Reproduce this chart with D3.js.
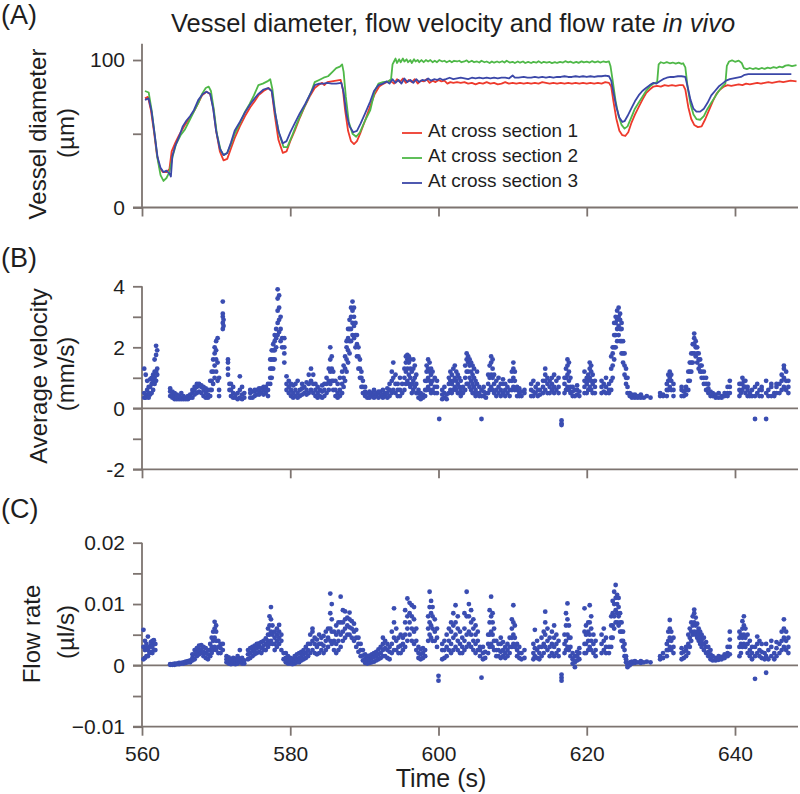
<!DOCTYPE html>
<html>
<head>
<meta charset="utf-8">
<script src="https://cdn.jsdelivr.net/npm/d3@7"></script>
<style>
  body { margin: 0; background: #fff; }
  svg { font-family: "Liberation Sans", Arial, sans-serif; }
  .tick text { fill: #1e1e1e; font-size: 21px; }
</style>
</head>
<body>
<div id="chart"></div>
<script>
// ---- data ----
var timeTicks = [560, 580, 600, 620, 640];
var diamTicks = [0, 50, 100];
var velTicks = [-2, -1, 0, 1, 2, 3, 4];
var flowTicks = [-0.01, -0.005, 0, 0.005, 0.01, 0.015, 0.02];

var legendLabels = ['At cross section 1', 'At cross section 2', 'At cross section 3'];

// vessel diameter (um) at cross section 1, [time s, diameter]
var diam1 = [[560.4,74],[560.8,75],[561.2,66],[561.6,52],[562.0,36],[562.4,27],[562.8,24],[563.3,24],[563.7,26],[564.0,38],[564.5,44],[565.0,49],[565.8,56],[566.6,62],[567.2,67],[567.6,71],[568.1,76],[568.7,78.5],[569.2,77],[569.6,68],[570.0,52],[570.5,38],[571.0,32],[571.5,33],[572.0,40],[572.5,47],[573.2,55],[573.9,62],[574.6,68],[575.2,72],[575.7,76],[576.4,79],[577.1,81],[577.5,79],[577.9,63],[578.4,46],[579.0,37],[579.5,38],[580.0,45],[580.6,52],[581.3,61],[582.0,69],[582.7,76],[583.3,81],[583.8,83],[584.3,84.5],[584.6,83],[585.0,85],[585.6,85.5],[586.2,86],[586.8,86.5],[587.1,80],[587.4,66],[587.8,52],[588.2,45],[588.6,43],[589.0,45],[589.5,51],[590.1,59],[590.8,69],[591.4,77],[592.0,82],[592.6,84],[593.0,85],[593.5,86],[594.0,84],[594.4,87],[594.8,85],[595.2,87.5],[595.6,84.5],[596.0,86.5],[596.4,85],[596.8,87],[597.2,84],[597.6,86],[598.0,85.5],[598.4,87],[598.8,84.5],[599.2,86],[599.6,85],[600.0,86.5],[600.4,85.5],[600.8,86],[601.2,84],[601.6,85],[602.0,84.5],[602.5,85],[603.0,84.5],[603.5,85],[604.0,84],[604.5,84.5],[605.0,83.5],[605.5,84.5],[606.0,84],[606.5,85],[607.0,84],[607.5,84.5],[608.0,83.5],[608.5,84],[609.0,85],[609.5,84],[610.0,84.5],[610.5,84],[611.0,84.5],[611.5,84],[612.0,84.5],[612.5,84],[613.0,84.5],[613.5,84],[614.0,85],[614.5,84.5],[615.0,84],[615.5,84.5],[616.0,84],[616.5,84.5],[617.0,84],[617.5,84.5],[618.0,84],[618.5,84.5],[619.0,84],[619.5,84.5],[620.0,84],[620.5,84.5],[621.0,84],[621.5,84.5],[622.0,84],[622.5,85],[623.0,84.5],[623.3,82],[623.6,72],[624.0,60],[624.4,52],[624.8,49],[625.2,48.5],[625.6,51],[626.0,57],[626.5,63],[627.0,68],[627.5,73],[628.0,77.5],[628.5,80],[629.0,82],[629.5,82.5],[630.0,82],[630.5,83],[631.0,82.5],[631.5,83],[632.0,82.5],[632.5,83],[633.0,83],[633.3,80],[633.7,68],[634.1,60],[634.5,56],[635.0,54.5],[635.5,55],[636.0,60],[636.5,66],[637.0,72],[637.5,77],[638.0,80],[638.5,82],[639.0,83],[639.5,82.5],[640.0,83],[640.5,83.5],[641.0,83],[641.5,84],[642.0,83.5],[642.5,84],[643.0,84.5],[643.5,84],[644.0,84.5],[644.5,85],[645.0,84.5],[645.5,85],[646.0,85.5],[646.5,85],[647.0,85.5],[647.5,86],[648.3,85.5]];

// cross section 2
var diam2 = [[560.4,79],[560.9,78],[561.3,66],[561.7,50],[562.1,33],[562.5,22],[562.9,18],[563.3,20],[563.7,24],[564.1,34],[564.6,43],[565.2,49],[565.8,53],[566.5,60],[567.1,66],[567.6,71],[568.1,77],[568.6,81],[569.0,82],[569.3,79],[569.7,66],[570.1,50],[570.6,39],[571.0,35.5],[571.5,37],[572.0,43],[572.5,50],[573.2,57],[573.9,65],[574.5,70],[575.1,76],[575.7,83],[576.3,84],[576.9,85.5],[577.3,87],[577.6,80],[578.0,63],[578.5,50],[579.1,41],[579.6,41],[580.2,48],[580.9,57],[581.6,65],[582.2,71.5],[582.8,78],[583.3,85],[583.9,86.5],[584.5,88],[585.1,89],[585.7,92],[586.2,94.5],[586.7,95.5],[587.0,97],[587.2,92],[587.5,75],[587.9,58],[588.4,50],[588.9,48],[589.4,51],[590.1,59],[590.8,66],[591.4,79],[591.9,84],[592.5,85],[593.2,85.5],[593.6,87],[593.8,97],[594.0,99],[594.2,101],[594.4,98],[594.7,100.5],[594.9,98.5],[595.2,101],[595.4,99],[595.7,100.5],[595.9,98.5],[596.2,100],[596.4,98],[596.7,100.5],[596.9,99],[597.2,100],[597.4,98.5],[597.7,100],[598.0,98.5],[598.3,100],[598.6,99],[598.9,100],[599.2,98.5],[599.5,99.5],[599.8,98.5],[600.1,100],[600.5,99],[600.8,99.5],[601.1,98.5],[601.5,99.5],[601.8,98.5],[602.1,99.5],[602.5,99],[602.8,99.5],[603.1,98.5],[603.5,99],[603.8,99.8],[604.1,98.5],[604.5,99.5],[604.8,98.5],[605.2,99],[605.5,98.3],[605.8,99.5],[606.2,98.5],[606.5,99],[606.9,98],[607.2,99],[607.5,98.2],[607.9,99],[608.2,98.3],[608.6,99.2],[608.9,98.3],[609.2,99.5],[609.6,98.3],[610.0,98.8],[610.3,98],[610.7,99],[611.0,98.2],[611.4,99],[611.7,98],[612.1,98.8],[612.5,98],[612.8,98.7],[613.2,98.2],[613.5,99.2],[613.9,98],[614.2,98.8],[614.6,98.2],[615.0,98.7],[615.3,97.9],[615.7,98.6],[616.0,98],[616.4,98.7],[616.8,98.3],[617.1,99.2],[617.5,98.4],[617.8,98.9],[618.2,98],[618.6,98.7],[618.9,98.1],[619.3,99.1],[619.6,98.4],[620.0,98.9],[620.4,98.3],[620.7,99.2],[621.1,98.4],[621.5,99.1],[621.8,98.3],[622.2,99],[622.6,98.5],[623.0,99],[623.2,96],[623.5,86],[623.9,72],[624.3,62],[624.7,56],[625.1,53.5],[625.5,55],[626.0,61],[626.5,67],[627.0,71],[627.5,75],[628.0,79],[628.5,82],[629.0,84],[629.5,85],[629.7,97],[630.0,98.5],[630.4,97.8],[630.8,98.6],[631.2,97.8],[631.6,98.3],[632.0,97.5],[632.4,98.2],[632.8,97.4],[633.0,97.8],[633.3,95],[633.6,82],[634.0,70],[634.4,63],[634.8,60],[635.3,59.5],[635.8,62],[636.3,67],[636.8,71],[637.3,75],[637.8,79],[638.3,82],[638.7,84],[638.9,96],[639.2,99],[639.6,99.8],[640.0,98.8],[640.5,99.6],[640.9,98],[641.2,94.5],[641.6,93.8],[642.0,94.6],[642.4,93.9],[642.8,94.5],[643.2,93.8],[643.6,94.6],[644.0,94],[644.4,94.8],[644.8,94.4],[645.2,95.2],[645.6,94.6],[646.0,95.5],[646.4,95],[646.8,96.2],[647.2,96.6],[647.7,95.9],[648.3,96.5]];

// cross section 3
var diam3 = [[560.4,73],[560.9,74],[561.3,65],[561.7,50],[562.1,34],[562.5,27],[562.9,24],[563.3,25],[563.7,23],[563.9,21],[564.1,35],[564.5,42],[565.0,48],[565.5,55],[566.0,59],[566.5,62],[567.0,66],[567.6,73],[568.2,77],[568.7,78.5],[569.2,77],[569.6,67],[570.0,52],[570.5,40],[571.0,35.5],[571.5,37],[572.0,44],[572.5,52],[573.2,58],[573.9,64.5],[574.6,70],[575.2,74],[575.7,77],[576.4,80],[577.0,81],[577.5,79],[577.9,66],[578.4,52],[579.0,43.5],[579.5,45],[580.0,51],[580.6,57],[581.3,64],[582.0,70],[582.6,76],[583.3,83],[583.9,84],[584.5,84],[585.0,84.5],[585.6,84],[586.2,84],[586.9,84.5],[587.2,78],[587.6,63],[588.0,55],[588.5,51],[589.0,52],[589.5,57],[590.1,63.8],[590.8,72],[591.3,79],[591.9,83],[592.5,84],[593.0,85.5],[593.4,84],[593.8,87],[594.2,84.5],[594.6,86.5],[595.0,84],[595.4,87.5],[595.8,85],[596.2,86.5],[596.6,84.5],[597.0,87],[597.4,85],[597.8,86.5],[598.2,86],[598.6,87.5],[599.0,86],[599.4,87],[599.8,86.5],[600.2,87.5],[600.6,86.5],[601.0,87],[601.5,88],[602.0,87],[602.5,87.5],[603.0,88],[603.5,87.5],[604.0,87],[604.5,88],[605.0,87.5],[605.5,88],[606.0,87.5],[606.5,88],[607.0,87.5],[607.5,88],[608.0,87.5],[608.5,88],[609.0,88],[609.5,87.5],[610.0,89.5],[610.3,88],[610.8,88],[611.5,88.5],[612.0,88],[612.5,88],[613.0,88.5],[613.5,88],[614.0,88.5],[614.5,88],[615.0,88.5],[615.5,88],[616.0,88.5],[616.5,88.5],[617.0,89],[617.5,88.5],[618.0,88.5],[618.5,89],[619.0,88.5],[619.5,89],[620.0,88.5],[620.5,89],[621.0,88.5],[621.5,89],[622.0,89],[622.5,89.5],[623.0,89],[623.3,86],[623.6,78],[624.0,68],[624.4,61],[624.8,58],[625.1,58.5],[625.5,62],[626.0,67],[626.5,72],[627.0,76],[627.5,79],[628.0,81],[628.5,83],[629.0,84.5],[629.4,84],[629.8,85.5],[630.3,87],[630.8,88],[631.3,88.5],[631.8,88.5],[632.3,89],[632.8,89],[633.3,88.5],[633.6,82],[634.0,73],[634.4,67],[634.8,65],[635.3,65],[635.8,67],[636.3,71],[636.8,76],[637.3,79],[637.8,82],[638.3,84],[638.8,86],[639.3,87],[639.8,87.5],[640.3,88],[640.8,88.5],[641.3,90],[641.8,90.5],[642.5,90.5],[643.5,90.5],[644.5,90.5],[645.5,90.5],[646.5,90.5],[647.6,90.5]];

// average velocity (mm/s): [time s, samples at that time...]
var velCols = [
[560.3,0.35,0.5,1.3],[560.5,0.35,0.45,1.1],[560.7,0.4,0.6,0.9],[560.9,0.35,0.5,0.7],[561.1,0.45,0.7,0.95],[561.3,0.5,0.8,1.0],[561.5,0.6,0.9,1.1],[561.7,0.8,1.0,1.2,1.6],[561.9,0.9,1.2,1.75,2.05],[562.05,1.1,1.3,1.9],
[563.8,0.4,0.55,0.65],[564.1,0.35,0.45,0.55],[564.4,0.3,0.4,0.5],[564.7,0.3,0.35,0.45],[565.0,0.3,0.4],[565.3,0.3,0.35,0.5],[565.6,0.3,0.4],[565.9,0.3,0.35],[566.2,0.3,0.4],[566.5,0.35,0.45],[566.8,0.35,0.5,0.6],[567.1,0.45,0.6,0.7],[567.4,0.5,0.7,0.8],[567.7,0.55,0.75,0.8],[568.0,0.5,0.7,0.75],[568.3,0.4,0.6,0.7],[568.6,0.35,0.5,0.65],[568.9,0.35,0.45,0.6],[569.2,0.4,0.6,0.9],[569.4,0.6,0.9,1.2],[569.6,0.8,1.2,1.6],[569.8,1.0,1.4,1.8,2.0],[570.0,1.2,1.6,1.9,2.2],[570.2,0.9,1.5,2.3],[570.4,0.4,0.6,1.0],
[570.9,2.6,2.8,3.0,3.1,3.5],[571.0,2.7,2.9],[571.6,1.1,1.3,1.5,1.6],[571.8,0.6,0.8],[572.0,0.4,0.6,0.8],[572.3,0.35,0.5,0.7],[572.6,0.35,0.45],[572.9,0.3,0.5],[573.2,0.35,0.6,1.05],[573.5,0.3,0.45,0.7],[573.8,0.35,0.5],
[574.6,0.35,0.5,0.6],[574.9,0.35,0.55],[575.2,0.4,0.55,0.6],[575.5,0.45,0.6],[575.8,0.45,0.55,0.65],[576.1,0.5,0.65],[576.4,0.45,0.6,0.7],[576.7,0.5,0.65,0.7],[577.0,0.4,0.6,0.8],[577.3,0.8,1.0,1.3,1.6],[577.5,1.0,1.3,1.6,1.9],[577.7,1.3,1.6,1.9,2.1],[577.9,1.6,1.9,2.2,2.4],[578.1,2.0,2.3,2.6],[578.3,2.4,2.8,3.2,3.6,3.9],[578.5,2.5,2.9,3.3,3.7],[578.7,2.2,2.6,3.0],[578.9,2.0,2.3],[579.2,1.5,1.8,2.0,2.3],
[579.5,0.6,0.8,1.05],[579.8,0.5,0.7,0.9],[580.1,0.4,0.6,0.8],[580.4,0.35,0.5,0.75],[580.7,0.4,0.6,0.8],[581.0,0.35,0.5,0.9],[581.3,0.4,0.6],[581.6,0.45,0.65,0.8],[581.9,0.5,0.7],[582.2,0.45,0.6,0.85],[582.5,0.5,0.8,1.1],[582.8,0.6,0.9,1.3],[583.1,0.5,0.8,1.1],[583.4,0.4,0.6,0.8],[583.7,0.35,0.5,0.7],[584.0,0.4,0.6],[584.3,0.35,0.55,0.75],[584.6,0.4,0.6,0.8],[584.9,0.5,0.8,1.0],[585.2,0.6,0.9,1.3],[585.4,0.8,1.2,1.6,2.0],[585.6,0.9,1.3,1.7],[585.8,0.6,0.9,1.2],[586.1,0.4,0.6,0.9],[586.4,0.35,0.5,0.8],[586.7,0.4,0.6,1.0],[587.0,0.5,0.8,1.2],[587.2,0.7,1.0,1.4],[587.4,0.9,1.3,1.7],[587.6,1.2,1.6,2.0,2.2],[587.8,1.5,1.9,2.3,2.6],[588.0,1.8,2.2,2.6,2.9],[588.2,2.2,2.6,3.0,3.3],[588.4,2.4,2.8,3.2,3.5],[588.6,2.3,2.7,3.0,3.3],[588.8,2.0,2.4,2.8],[589.0,1.7,2.1,2.4],[589.2,1.3,1.7,2.0],[589.4,1.0,1.3,1.6],[589.6,0.7,1.0,1.2],[589.8,0.5,0.7,0.9],
[590.1,0.4,0.55,0.7],[590.4,0.35,0.5],[590.7,0.35,0.45,0.55],[591.0,0.4,0.5],[591.3,0.35,0.45,0.6],[591.6,0.4,0.5],[591.9,0.35,0.5,0.55],[592.2,0.4,0.55],[592.5,0.35,0.45,0.6],[592.8,0.4,0.5],[593.1,0.35,0.5,0.65],[593.4,0.4,0.6,0.8],[593.7,0.5,0.9,1.2],[593.9,0.6,1.0,1.5],[594.2,0.5,0.8,1.1],[594.5,0.4,0.6,0.8],[594.8,0.4,0.6,1.0],[595.1,0.5,0.8],[595.4,0.6,1.0,1.3],[595.6,0.8,1.2,1.5,1.7],[595.8,0.9,1.3,1.6,1.75],[596.0,0.8,1.1,1.5,1.7],[596.2,0.7,1.0,1.3,1.6],[596.4,0.5,0.8,1.2],[596.6,0.6,0.9,1.3,1.6],[596.8,0.7,1.0,1.4],[597.0,0.5,0.8,1.1],[597.3,0.35,0.5,0.6],[597.6,0.3,0.4,0.5],[597.9,0.35,0.45],[598.2,0.4,0.6,0.9],[598.4,0.6,0.9,1.2,1.4],[598.6,0.7,1.0,1.3,1.6],[598.8,0.6,0.9,1.2,1.5],[599.0,0.5,0.8,1.1,1.3],[599.2,0.6,0.9,1.2],[599.5,0.5,0.7,1.0],[599.8,0.5,0.7,0.9],
[600.1,-0.35],[600.5,0.3,0.45,0.6],[600.8,0.35,0.5,0.7],[601.1,0.3,0.45],[601.4,0.5,0.8,1.0],[601.6,0.6,0.9,1.2],[601.8,0.5,0.8,1.1],[602.0,0.6,0.9,1.3],[602.2,0.7,1.0,1.4],[602.4,0.6,0.9,1.2],[602.6,0.5,0.8,1.1],[602.8,0.5,0.7,1.0],[603.0,0.4,0.6,0.9],[603.3,0.5,0.7],[603.6,0.6,1.0,1.4],[603.8,0.8,1.2,1.6,1.8],[604.0,0.8,1.2,1.5,1.7],[604.2,0.7,1.0,1.4,1.6],[604.4,0.6,0.9,1.2,1.5],[604.6,0.5,0.8,1.1,1.4],[604.8,0.5,0.7,1.0,1.3],[605.0,0.4,0.6,0.9],[605.2,0.5,0.8,1.2],[605.5,0.4,0.5,0.7],[605.8,0.4,0.6,-0.35],[606.1,0.4,0.55,0.7],[606.4,0.35,0.5],[606.7,0.5,0.8,1.1],[606.9,0.6,1.0,1.4],[607.1,0.7,1.1,1.5,1.7],[607.3,0.6,1.0,1.3,1.6],[607.5,0.5,0.8,1.1],[607.8,0.4,0.6,0.9],[608.1,0.5,0.7,1.0],[608.4,0.4,0.6,0.8],[608.7,0.5,0.8,0.95],[609.0,0.4,0.6,0.8],[609.3,0.5,0.7],[609.6,0.4,0.6,0.9],[609.9,0.6,0.9,1.2],[610.1,0.7,1.0,1.3,1.5],[610.3,0.6,0.9,1.2],[610.6,0.4,0.6,0.7],[610.9,0.4,0.5,0.65],[611.2,0.4,0.55],[611.6,0.5,0.6],
[612.5,0.4,0.6,0.8],[612.8,0.4,0.55,0.9],[613.1,0.5,0.7],[613.4,0.4,0.6,0.8],[613.7,0.45,0.6],[614.1,0.5,0.7,0.9],[614.4,0.6,0.9,1.1,1.3],[614.7,0.5,0.8,1.0],[615.0,0.5,0.7,0.9],[615.3,0.6,0.8,1.0],[615.6,0.5,0.7,1.1],[615.9,0.6,0.9],[616.2,0.5,0.7,1.0],[616.6,-0.4,-0.5,-0.55],[617.0,0.5,0.8,1.0],[617.2,0.6,1.0,1.3],[617.4,0.7,1.1,1.4,1.6],[617.6,0.6,0.9,1.2,1.5],[617.8,0.5,0.7,1.0],[618.1,0.4,0.55,0.7],[618.4,0.4,0.6],[618.7,0.45,0.6,0.75],[619.0,0.4,0.55],
[619.7,0.5,0.7,0.9,1.2],[620.0,0.5,0.8,1.0],[620.2,0.6,0.9,1.1],[620.4,0.7,1.0,1.3,1.5],[620.6,0.6,0.9,1.2,1.4],[620.8,0.5,0.8,1.1],[621.1,0.5,0.7,0.9],[622.0,0.5,0.7,0.9],[622.3,0.55,0.8],[622.6,0.5,0.7,1.0],[623.0,0.5,0.6,0.8],
[623.3,0.6,0.9,1.3,1.7],[623.5,1.0,1.4,1.8,2.0],[623.7,1.6,2.0,2.4,2.8],[623.9,2.0,2.4,2.8,3.0],[624.1,2.2,2.6,2.9,3.2],[624.3,2.4,2.7,3.0,3.3],[624.5,2.2,2.6,2.9,3.1],[624.7,1.8,2.2,2.6,2.8],[624.9,1.5,1.8,2.2],[625.1,1.1,1.4,1.8],[625.3,0.8,1.0,1.3],[625.5,0.5,0.7,1.0],[625.8,0.4,0.5],[626.1,0.35,0.45],[626.5,0.35,0.45],[626.9,0.35,0.4],[627.3,0.35,0.45],[627.7,0.35],[628.1,0.4],[628.6,0.35],
[629.9,0.4,0.5],[630.3,0.4,0.45],[630.8,0.4,0.6,0.8],[631.0,0.6,0.9,1.1],[631.2,0.7,1.0,1.2],[631.4,0.6,0.9,1.1],[631.7,0.4,0.6,0.8],[632.8,0.4,0.6,0.7],[633.1,0.4,0.55],[633.4,0.45,0.6,0.7],[633.7,0.6,0.9,1.2],[633.9,0.9,1.2,1.5],[634.1,1.2,1.5,1.8],[634.3,1.5,1.8,2.1],[634.5,1.8,2.1,2.3,2.45],[634.7,1.7,2.0,2.2],[634.9,1.5,1.8,2.0],[635.1,1.3,1.6,1.8],[635.3,1.2,1.4,1.6],[635.5,1.0,1.2,1.4],[635.8,0.8,1.0,1.2],[636.1,0.6,0.8,1.0],[636.4,0.5,0.65,0.8],[636.7,0.4,0.55],[637.0,0.4,0.5],[637.4,0.35,0.45],[637.8,0.35,0.5],[638.2,0.35,0.4],[638.6,0.4,0.5],[639.0,0.4,0.5,0.7],[639.3,0.5,0.7,0.9],
[640.6,0.4,0.6,0.8],[640.8,0.5,0.8],[641.0,0.6,0.8,1.0],[641.2,0.7,0.9],[641.4,0.5,0.7,0.9],[641.7,0.4,0.6,0.7],[642.0,0.4,0.5],[642.3,0.4,0.6],[642.7,-0.35,0.4,0.7],[643.0,0.5,0.8],[643.3,0.4,0.6],[643.6,0.4,0.6,0.7],[644.2,-0.35,0.5,0.9],[644.5,0.4,0.6],[644.9,0.4,0.7,0.8],[645.3,0.4,0.5],[645.6,0.5,0.7,0.8],[646.0,0.5,0.8],[646.3,0.6,0.9,1.1],[646.6,0.7,1.0,1.3,1.4],[646.9,0.6,0.9,1.2],[647.2,0.5,0.7,0.9]
];

// flow rate, in units of 0.001 ul/s: [time s, samples at that time...]
var FLOW_UNIT = 0.001;
var flowCols = [
[560.2,1.0,3.0,5.8],[560.4,1.2,2.5,4.0],[560.6,1.5,2.8,3.5],[560.8,1.5,2.5,4.7],[561.0,2.0,3.0],[561.2,2.2,3.2,3.8],[561.4,2.0,3.0,4.0],[561.6,2.5,3.5,4.1],[561.8,2.5,3.5],
[563.8,0.1,0.2],[564.1,0.1,0.2],[564.4,0.1,0.3],[564.7,0.2,0.3],[565.0,0.2,0.4],[565.3,0.3,0.4],[565.6,0.3,0.5],[565.9,0.4,0.6],[566.2,0.5,0.7],[566.5,0.5,0.8],[566.8,0.8,1.2,1.8],[567.1,1.0,1.8,2.5],[567.4,1.5,2.2,2.8],[567.7,1.8,2.5,3.2],[568.0,2.0,2.6,3.3],[568.3,1.5,2.2,3.0],[568.6,1.2,2.0,2.8],[568.9,1.0,1.8,2.5],[569.2,1.5,2.5,3.5],[569.4,2.0,3.0,4.5],[569.6,2.5,4.0,5.5],[569.8,3.0,4.5,6.0,7.1],[570.0,2.5,4.0,5.5,6.5],[570.3,2.0,3.0,4.0],[570.6,2.0,2.8,3.5],[570.9,2.5,3.5],
[571.4,0.5,1.0,1.5],[571.7,0.3,0.8,1.3],[572.0,0.2,0.6,1.0],[572.3,0.3,0.7,1.2],[572.6,0.2,0.5,1.0],[572.9,0.3,0.8,1.5],[573.2,0.5,1.0,2.5],[573.5,0.3,0.7,1.2],[573.8,0.3,0.8],
[574.3,1.0,1.8,2.5],[574.6,1.2,2.0,2.8],[574.9,1.5,2.3,3.0],[575.2,1.8,2.5,3.2],[575.5,2.0,2.8,3.5],[575.8,2.2,3.0,3.6],[576.1,2.0,2.8,3.8],[576.4,2.5,3.2,4.0],[576.7,2.5,3.5,4.4],[577.0,3.0,4.0,5.0,6.0],[577.2,3.5,5.0,6.5,8.0],[577.4,4.0,5.5,7.5,9.5],[577.6,3.5,5.0,6.5],[577.9,2.5,3.5,4.5,5.5],[578.2,3.0,4.0,5.0,6.0],[578.5,3.5,4.5,5.5,6.6],[578.8,2.5,4.0,5.0],
[579.1,1.0,2.0],[579.4,0.5,1.2,2.0],[579.7,0.3,0.8,1.5],[580.0,0.3,0.6,1.2],[580.3,0.2,0.7,1.0],[580.6,0.3,0.8,1.5],[580.9,0.5,1.0,1.8],[581.2,0.5,1.2,2.0],[581.5,0.8,1.5,2.2],[581.8,1.0,1.8,2.5],[582.1,1.2,2.0,3.0],[582.4,1.5,2.5,3.5],[582.7,2.0,3.5,5.0],[583.0,2.5,4.0,5.5,6.0],[583.3,2.0,3.5,4.5],[583.6,1.8,3.0,4.2],[583.9,2.0,3.5,5.0],[584.2,2.5,3.5,4.5],[584.5,2.0,3.2,4.8],[584.8,2.5,4.0,5.5],[585.1,3.0,4.5,6.0],[585.4,4.0,6.0,8.5,11.7],[585.6,3.5,5.5,7.5,10.0],[585.9,2.5,4.0,5.5],[586.2,2.0,3.5,5.0,6.5],[586.5,2.5,4.0,5.5,7.0],[586.8,3.0,5.0,7.0,11.2],[587.1,4.0,5.5,7.0,9.0],[587.4,4.5,6.0,7.5,8.8],[587.7,5.0,6.5,7.8],[588.0,5.0,6.2,7.5,8.6],[588.3,4.5,6.0,7.2],[588.6,4.0,5.5,6.8],[588.9,3.0,4.5,5.8],[589.2,2.2,3.5,4.5],[589.5,1.5,2.5,3.5],[589.8,0.8,1.6,2.5],
[590.1,0.4,1.0,1.8],[590.4,0.3,0.8,1.5],[590.7,0.4,1.0,1.6],[591.0,0.5,1.2,1.8],[591.3,0.6,1.4,2.0],[591.6,0.8,1.5,2.2],[591.9,1.0,1.8,2.6],[592.2,1.2,2.0,3.0],[592.5,1.5,2.5,3.5,4.5],[592.8,1.5,2.8,4.0],[593.1,1.2,2.5,3.5],[593.4,1.0,2.2,3.0],[593.7,2.0,3.5,5.5],[594.0,2.5,4.5,7.0,9.3],[594.3,2.5,4.0,6.0],[594.6,2.0,3.0,4.5],[594.9,2.0,3.2,5.0],[595.2,2.5,3.5,4.5],[595.5,3.0,5.0,7.0,9.0],[595.8,4.0,6.0,8.0,10.9],[596.1,5.0,7.0,8.5,10.2],[596.4,4.0,6.0,8.0,9.8],[596.7,3.5,5.5,7.5,9.5],[597.0,2.5,4.0,6.0],[597.3,1.2,2.0,3.0],[597.6,1.0,1.8,2.6],[597.9,1.2,2.0,2.8],[598.2,1.5,2.5],[598.6,4.0,6.0,8.0],[598.8,5.0,7.0,9.5,12.0],[599.0,4.5,6.5,8.5,10.5],[599.2,4.0,6.0,8.0,9.5],[599.5,4.0,5.5,7.5],[599.8,3.0,4.5,6.0],
[600.0,-1.7,-2.5],[600.5,1.0,2.5,3.5],[600.8,1.2,2.5,4.0],[601.1,1.5,3.0,5.0],[601.4,2.5,4.0,6.0],[601.7,2.0,3.5,5.5,7.0],[602.0,2.5,4.5,6.5,8.5],[602.3,3.0,5.0,7.0,9.8],[602.6,2.5,4.0,6.0,8.0],[602.9,2.0,3.5,5.5],[603.2,2.0,3.0,4.5],[603.5,2.5,4.0,6.0,8.5],[603.8,3.0,5.0,8.0,12.0],[604.1,3.5,5.5,8.0,10.0],[604.4,3.0,5.0,7.0,9.0],[604.7,2.5,4.0,6.0,7.5],[605.0,2.0,3.5,5.0,6.5],[605.3,2.5,4.0,5.5],[605.6,1.5,2.5,3.0],[605.8,-2.0],[606.0,1.0,2.0,3.0],[606.3,1.2,2.2],[606.7,2.0,3.5,5.0],[606.9,3.0,5.0,7.0,9.0],[607.1,3.5,5.5,8.0,11.2],[607.3,3.0,5.0,7.0,8.5],[607.5,2.5,4.0,6.0],[607.8,1.5,2.5,4.0],[608.1,1.5,2.5,3.5],[608.4,1.2,2.2,3.5,4.5],[608.7,1.5,2.5,3.8],[609.0,1.2,2.0,3.0],[609.3,1.5,2.5,3.5],[609.6,2.0,3.0,4.5],[609.9,3.0,4.5,6.0,7.5],[610.1,3.5,5.0,7.0,9.8],[610.3,3.0,4.5,6.5],[610.6,1.5,2.5,3.5],[610.9,1.2,2.0,3.0],[611.2,1.0,2.0],[611.6,1.2,2.5],
[612.8,1.0,2.0,3.5],[613.0,1.5,2.8,5.8],[613.3,1.2,2.5,4.0],[613.6,1.0,2.0,3.0],[613.9,1.5,3.0,4.5],[614.2,2.0,3.5,5.5],[614.4,3.0,5.0,7.0,8.75],[614.7,2.5,4.0,6.0],[615.0,1.5,3.0,4.5],[615.3,2.0,3.5,5.5],[615.6,1.5,3.0,4.5,6.5],[615.9,2.0,3.5,5.0],[616.2,1.5,2.5,4.0],[616.6,-1.5,-2.0,-2.5],[617.0,2.0,3.5,5.0],[617.2,2.5,4.0,6.5,8.5],[617.4,3.0,5.0,7.5,10.1],[617.6,2.5,4.5,6.5],[617.8,1.5,3.0,4.5],[618.1,0.3,1.0,2.0],[618.4,-0.3,0.5,1.5],[618.7,0.8,1.5,2.2],[619.0,1.0,2.0,2.8],
[619.7,2.0,3.5,5.5,9.3],[619.9,2.0,3.5,5.0,6.5],[620.2,2.5,4.0,5.5,7.0],[620.4,3.0,5.0,7.0,9.8],[620.6,2.5,4.0,6.0,8.0],[620.9,2.0,3.5,5.0],[621.2,1.5,2.5,4.0],[622.0,2.0,3.5,5.0],[622.3,2.5,4.0,6.0],[622.6,2.0,3.0,4.5],[623.0,2.0,3.0],
[623.3,3.0,4.5,6.5,8.0],[623.5,4.5,6.5,8.5,10.5],[623.7,6.0,8.0,10.0,12.0],[623.9,7.0,9.0,11.0,13.1],[624.1,7.0,8.5,10.0,11.5],[624.3,6.5,8.0,9.5,11.0],[624.5,5.5,7.0,8.5],[624.7,4.0,5.5,7.0],[624.9,3.0,4.0,5.5],[625.1,1.5,2.5,3.5],[625.3,0.5,1.0,1.5],[625.5,0.0,0.3,-0.3],[625.8,0.0,0.5],[626.1,0.3,0.6],[626.5,0.4,0.7],[626.9,0.5],[627.3,0.4,0.7],[627.7,0.5],[628.1,0.6],[628.6,0.5],
[629.9,1.0,1.5],[630.3,1.2,2.0],[630.8,1.5,2.5,3.5],[631.0,2.5,4.0,5.5],[631.2,3.0,4.5,6.0,7.4],[631.4,2.5,4.0,5.5],[631.7,2.0,3.0,4.5],[632.8,1.0,2.0,2.8],[633.1,1.2,2.2],[633.4,1.5,2.5,3.0],[633.7,2.0,3.5,5.0],[633.9,3.0,4.5,6.0],[634.1,4.0,5.5,7.0],[634.3,5.0,6.5,8.0],[634.5,5.5,7.0,8.5,9.1],[634.7,5.0,6.5,7.8],[634.9,4.5,5.5,6.8],[635.1,4.0,5.0,6.0],[635.3,3.5,4.5,5.5],[635.5,3.0,4.0,5.0],[635.8,2.5,3.5,4.5],[636.1,2.0,3.0,3.8],[636.4,1.5,2.2,3.0],[636.7,1.0,1.8,2.5],[637.0,0.8,1.5],[637.4,0.8,1.2],[637.8,0.9,1.5],[638.2,1.0,1.4],[638.6,1.2,1.8],[639.0,1.5,2.0,3.0],[639.3,1.8,3.0,4.2,5.5],
[640.6,1.5,3.0,4.5,5.5],[640.8,2.0,3.5,5.0],[641.0,3.0,4.5,6.0,7.2],[641.2,3.5,5.0,6.5,8.0],[641.4,3.0,4.5,6.0],[641.7,2.0,3.5,5.0],[642.0,1.5,2.5,4.0],[642.3,1.0,2.0,3.0],[642.7,-2.2,1.5,3.0],[643.0,2.0,3.5,4.7],[643.3,1.5,2.5,4.0],[643.6,1.2,2.2,3.5],[644.0,1.0,2.0],[644.2,-1.2,1.5,3.5],[644.5,1.0,2.5],[644.9,1.5,3.0,4.0],[645.3,1.0,2.0],[645.6,1.5,2.8,3.8],[646.0,2.0,3.5],[646.3,2.5,4.0,5.5],[646.6,3.0,4.5,6.0,7.5],[646.9,2.5,4.0,5.5],[647.2,2.0,3.0,4.5]
];

// ---- layout ----
var svgWidth = 800;
var svgHeight = 794;
var axisColor = '#7d7470';
var dotColor = '#3a4db2';
var lineColors = ['#ee3a2c', '#4fb848', '#3b47a8'];

var svg = d3.select('#chart').append('svg')
  .attr('width', svgWidth)
  .attr('height', svgHeight);

var xScale = d3.scaleLinear().domain([560, 648.5]).range([142, 798]);

var yDiam = d3.scaleLinear().domain([0, 111]).range([207.5, 43.8]);
var yVel = d3.scaleLinear().domain([-2, 4]).range([469.3, 286.3]);
var yFlow = d3.scaleLinear().domain([-0.01, 0.02]).range([726.7, 542.7]);

function flatten(cols, unit) {
  var pts = [];
  cols.forEach(function(c) {
    c.slice(1).forEach(function(v) { pts.push({t: c[0], v: v * unit}); });
  });
  return pts;
}

// draws y axis, bottom axis and (optional) zero line for one panel
function drawAxes(yScale, ticks, fmt, showXLabels, zeroLine) {
  var yAxis = svg.append('g')
    .attr('transform', 'translate(142,0)')
    .call(d3.axisLeft(yScale).tickValues(ticks).tickFormat(fmt).tickSize(9).tickPadding(8));
  yAxis.select('.domain').remove();
  yAxis.selectAll('line').attr('stroke', axisColor).attr('stroke-width', 1.8);
  yAxis.selectAll('text').attr('font-size', '21px');

  var y0 = yScale.range()[0];
  var xAxis = svg.append('g')
    .attr('transform', 'translate(0,' + y0 + ')')
    .call(d3.axisBottom(xScale).tickValues(timeTicks)
      .tickFormat(showXLabels ? d3.format('d') : '').tickSize(9).tickPadding(10));
  xAxis.select('.domain').remove();
  xAxis.selectAll('line').attr('stroke', axisColor).attr('stroke-width', 1.8);
  xAxis.selectAll('text').attr('font-size', '21px');

  // axis lines
  svg.append('line')
    .attr('x1', 142).attr('x2', 142)
    .attr('y1', yScale.range()[1]).attr('y2', y0)
    .attr('stroke', axisColor).attr('stroke-width', 1.8);
  svg.append('line')
    .attr('x1', 133).attr('x2', xScale.range()[1])
    .attr('y1', y0).attr('y2', y0)
    .attr('stroke', axisColor).attr('stroke-width', 1.8);
  if (zeroLine) {
    svg.append('line')
      .attr('x1', 133).attr('x2', xScale.range()[1])
      .attr('y1', yScale(0)).attr('y2', yScale(0))
      .attr('stroke', axisColor).attr('stroke-width', 1.8);
  }
}

drawAxes(yDiam, diamTicks, function(d) { return d === 50 ? '' : d; }, false, false);
drawAxes(yVel, velTicks, function(d) { return d % 2 === 0 ? d : ''; }, false, true);
drawAxes(yFlow, flowTicks, function(d) {
  var k = Math.round(d * 1000);
  if (k % 10 !== 0) return '';
  return k === 0 ? '0' : d3.format('.2f')(d);
}, true, true);

// ---- panel A lines ----
var line = d3.line()
  .x(d => xScale(d[0]))
  .y(d => yDiam(d[1]));

[diam1, diam2, diam3].forEach(function(series, i) {
  svg.append('path')
    .datum(series)
    .attr('d', line)
    .attr('fill', 'none')
    .attr('stroke', lineColors[i])
    .attr('stroke-width', 1.8)
    .attr('stroke-linejoin', 'round');
});

// legend
var legend = svg.append('g');
legendLabels.forEach(function(lbl, i) {
  var yy = 133 + i * 25;
  legend.append('line')
    .attr('x1', 402).attr('x2', 422)
    .attr('y1', yy).attr('y2', yy)
    .attr('stroke', lineColors[i]).attr('stroke-width', 1.8);
  legend.append('text')
    .attr('x', 428).attr('y', yy + 4)
    .attr('font-size', '19px')
    .attr('fill', '#1e1e1e')
    .text(lbl);
});

// ---- panels B and C dots ----
svg.append('g').selectAll('circle')
  .data(flatten(velCols, 1))
  .enter().append('circle')
  .attr('cx', d => xScale(d.t))
  .attr('cy', d => yVel(d.v))
  .attr('r', 2.4)
  .attr('fill', dotColor);

svg.append('g').selectAll('circle')
  .data(flatten(flowCols, FLOW_UNIT))
  .enter().append('circle')
  .attr('cx', d => xScale(d.t))
  .attr('cy', d => yFlow(d.v))
  .attr('r', 2.4)
  .attr('fill', dotColor);

// ---- texts ----
var title = svg.append('text')
  .attr('x', 171).attr('y', 32)
  .attr('font-size', '25.5px')
  .attr('fill', '#1e1e1e');
title.append('tspan').text('Vessel diameter, flow velocity and flow rate ');
title.append('tspan').attr('font-style', 'italic').text('in vivo');

[['(A)', 24], ['(B)', 267], ['(C)', 518]].forEach(function(p) {
  svg.append('text')
    .attr('x', 1).attr('y', p[1])
    .attr('font-size', '27px')
    .attr('fill', '#1e1e1e')
    .text(p[0]);
});

function yLabel(txt, x, cy) {
  svg.append('text')
    .attr('transform', 'translate(' + x + ',' + cy + ') rotate(-90)')
    .attr('text-anchor', 'middle')
    .attr('font-size', '24px')
    .attr('fill', '#1e1e1e')
    .text(txt);
}
yLabel('Vessel diameter', 46, 134);
yLabel('(\u00b5m)', 74, 133);
yLabel('Average velocity', 47, 376);
yLabel('(mm/s)', 74, 374);
yLabel('Flow rate', 40, 634);
yLabel('(\u00b5l/s)', 74, 632);

svg.append('text')
  .attr('x', 441).attr('y', 787)
  .attr('text-anchor', 'middle')
  .attr('font-size', '25px')
  .attr('fill', '#1e1e1e')
  .text('Time (s)');
</script>
</body>
</html>
